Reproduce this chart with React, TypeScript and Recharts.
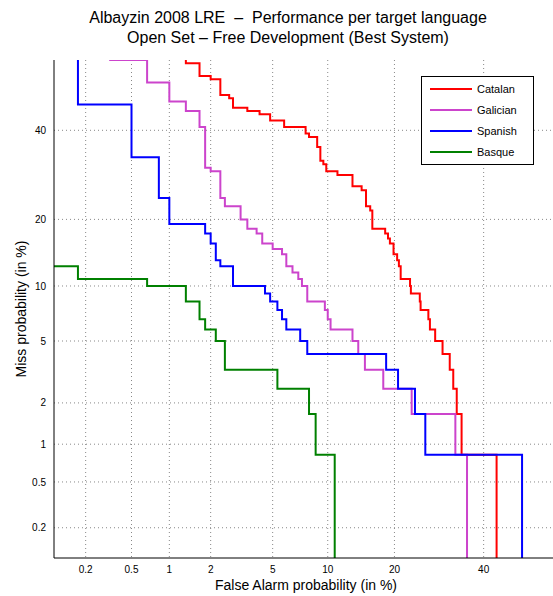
import React from 'react';
import { LineChart, Line, XAxis, YAxis, CartesianGrid, Legend } from 'recharts';

// DET curve, values in %; axes are probit (normal deviate) scaled
const tickLabels = [0.2, 0.5, 1, 2, 5, 10, 20, 40];

const catalanFa = [0.01, 1.33, 1.67, 2.0, 2.33, 2.67, 2.83, 3.5, 4.17, 4.83, 5.83, 7.67, 8.0, 8.83, 9.17, 9.5, 9.83, 11.17, 13.17, 14.5, 15.17, 15.83, 16.17, 18.33, 18.83, 19.17, 19.83, 20.5, 20.83, 21.17, 23.0, 23.17, 25.0, 25.17, 26.83, 27.17, 28.33, 30.0, 31.67, 32.5, 33.33, 34.5, 43.33];
const catalanMiss = [99, 57.5, 54.17, 53.33, 49.17, 48.33, 45.83, 45.0, 44.17, 42.5, 40.83, 39.17, 38.33, 35.83, 32.5, 31.67, 30.0, 29.17, 26.67, 25.83, 22.5, 21.67, 18.33, 17.5, 16.67, 15.83, 14.17, 13.33, 12.5, 10.83, 10.0, 9.17, 8.33, 7.5, 6.67, 5.83, 5.0, 4.17, 3.33, 2.5, 1.67, 0.83, 0.01];

const galicianFa = [0.01, 0.33, 0.67, 1.0, 1.33, 1.67, 1.83, 2.0, 2.33, 2.5, 3.17, 3.5, 4.0, 4.33, 5.0, 5.67, 6.0, 6.5, 7.0, 7.33, 7.83, 9.67, 10.0, 10.33, 13.17, 14.0, 15.0, 18.0, 23.33, 33.0, 35.83];
const galicianMiss = [99, 58.33, 52.5, 47.5, 45.0, 40.83, 30.83, 30.0, 24.17, 22.5, 20.0, 18.33, 17.5, 15.83, 15.0, 14.17, 12.5, 11.67, 10.83, 10.0, 8.33, 7.5, 6.67, 5.83, 5.0, 4.17, 3.33, 2.5, 1.67, 0.83, 0.01];

const spanishFa = [0.01, 0.17, 0.5, 0.83, 1.0, 1.83, 2.0, 2.17, 2.33, 2.83, 4.5, 4.83, 5.33, 5.67, 6.0, 7.17, 7.83, 18.5, 20.67, 24.0, 26.17, 50.0];
const spanishMiss = [99, 46.67, 33.33, 24.17, 19.17, 17.5, 15.83, 13.33, 12.5, 10.0, 9.17, 8.33, 7.5, 6.67, 5.83, 5.0, 4.17, 3.33, 2.5, 1.67, 0.83, 0.01];

const basqueFa = [0.01, 0.17, 0.67, 1.33, 1.67, 1.83, 2.17, 2.5, 5.33, 8.0, 8.67, 10.83];
const basqueMiss = [12.5, 10.83, 10.0, 8.33, 6.67, 5.83, 5.0, 3.33, 2.5, 1.67, 0.83, 0.01];

const FONT = '"Liberation Sans", Arial, Helvetica, sans-serif';

// inverse normal CDF (Acklam), input in %
const probit = (pct: number) => {
  const p = pct / 100;
  const a = [-39.69683028665376, 220.9460984245205, -275.9285104469687, 138.357751867269, -30.66479806614716, 2.506628277459239];
  const b = [-54.47609879822406, 161.5858368580409, -155.6989798598866, 66.80131188771972, -13.28068155288572];
  const c = [-0.007784894002430293, -0.3223964580411365, -2.400758277161838, -2.549732539343734, 4.374664141464968, 2.938163982698783];
  const d = [0.007784695709041462, 0.3224671290700398, 2.445134137142996, 3.754408661907416];
  const pl = 0.02425;
  if (p < pl) {
    const q = Math.sqrt(-2 * Math.log(p));
    return (((((c[0] * q + c[1]) * q + c[2]) * q + c[3]) * q + c[4]) * q + c[5]) /
      ((((d[0] * q + d[1]) * q + d[2]) * q + d[3]) * q + 1);
  }
  if (p <= 1 - pl) {
    const q = p - 0.5;
    const r = q * q;
    return ((((((a[0] * r + a[1]) * r + a[2]) * r + a[3]) * r + a[4]) * r + a[5]) * q) /
      (((((b[0] * r + b[1]) * r + b[2]) * r + b[3]) * r + b[4]) * r + 1);
  }
  const q = Math.sqrt(-2 * Math.log(1 - p));
  return -(((((c[0] * q + c[1]) * q + c[2]) * q + c[3]) * q + c[4]) * q + c[5]) /
    ((((d[0] * q + d[1]) * q + d[2]) * q + d[3]) * q + 1);
};

const toPoints = (fa: number[], miss: number[]) =>
  fa.map((f, i) => ({ x: probit(f), y: probit(miss[i]) }));

const series = [
  { name: 'Catalan', color: '#ff0000', data: toPoints(catalanFa, catalanMiss) },
  { name: 'Galician', color: '#cc44cc', data: toPoints(galicianFa, galicianMiss) },
  { name: 'Spanish', color: '#0000ff', data: toPoints(spanishFa, spanishMiss) },
  { name: 'Basque', color: '#008000', data: toPoints(basqueFa, basqueMiss) },
];

const ticks = tickLabels.map(probit);
const formatTick = (v: number) => {
  const i = ticks.findIndex((t) => Math.abs(t - v) < 1e-6);
  return i >= 0 ? String(tickLabels[i]) : '';
};

const LegendBox = () => (
  <div
    style={{
      width: 113,
      height: 89,
      border: '1px solid #000',
      background: '#fff',
      boxSizing: 'border-box',
      paddingTop: 2,
      fontFamily: FONT,
      fontSize: 11,
      color: '#000',
    }}
  >
    {series.map((s) => (
      <div key={s.name} style={{ display: 'flex', alignItems: 'center', height: 20.8 }}>
        <span style={{ display: 'inline-block', width: 42, height: 2, background: s.color, marginLeft: 8, marginRight: 5 }} />
        <span>{s.name}</span>
      </div>
    ))}
  </div>
);

export default function App() {
  return (
    <div style={{ position: 'absolute', left: 0, top: 0, width: 553, height: 596, background: '#fff', fontFamily: FONT, overflow: 'hidden' }}>
      <div
        style={{
          position: 'absolute',
          left: 0,
          top: 8,
          width: 576,
          textAlign: 'center',
          fontSize: 16,
          lineHeight: '20.3px',
          color: '#000',
        }}
      >
        <div>Albayzin 2008 LRE&nbsp; – &nbsp;Performance per target language</div>
        <div>Open Set – Free Development (Best System)</div>
      </div>
      {/* the plot runs past the right edge of the picture, as in the original */}
      <LineChart width={563} height={596} margin={{ top: 60, right: 0, bottom: 0, left: 0 }}>
        <CartesianGrid stroke="#888" strokeDasharray="1 3" syncWithTicks />
        <XAxis
          type="number"
          dataKey="x"
          domain={[-3.087, 0.27]}
          allowDataOverflow
          ticks={ticks}
          interval={0}
          tickFormatter={formatTick}
          tickLine={false}
          height={38}
          axisLine={{ stroke: '#000' }}
          tick={{ fontSize: 10, fill: '#000', fontFamily: FONT }}
        />
        <YAxis
          type="number"
          dataKey="y"
          domain={[-3.078, 0.211]}
          allowDataOverflow
          ticks={ticks}
          interval={0}
          tickFormatter={formatTick}
          tickLine={false}
          width={54}
          axisLine={{ stroke: '#000' }}
          tick={{ fontSize: 10, fill: '#000', fontFamily: FONT }}
        />
        <Legend
          layout="vertical"
          align="center"
          verticalAlign="middle"
          content={<LegendBox />}
          wrapperStyle={{ left: 421, top: 76, width: 113, height: 89 }}
        />
        {series.map((s) => (
          <Line
            key={s.name}
            data={s.data}
            dataKey="y"
            name={s.name}
            type="stepAfter"
            stroke={s.color}
            strokeWidth={2}
            dot={false}
            activeDot={false}
            isAnimationActive={false}
          />
        ))}
      </LineChart>
      <div
        style={{
          position: 'absolute',
          left: 106,
          top: 576,
          width: 400,
          textAlign: 'center',
          fontSize: 14,
          lineHeight: '18px',
          color: '#000',
        }}
      >
        False Alarm probability (in %)
      </div>
      <div
        style={{
          position: 'absolute',
          left: 21 - 150,
          top: 309 - 9,
          width: 300,
          height: 18,
          textAlign: 'center',
          fontSize: 14,
          lineHeight: '18px',
          color: '#000',
          transform: 'rotate(-90deg)',
        }}
      >
        Miss probability (in %)
      </div>
    </div>
  );
}
